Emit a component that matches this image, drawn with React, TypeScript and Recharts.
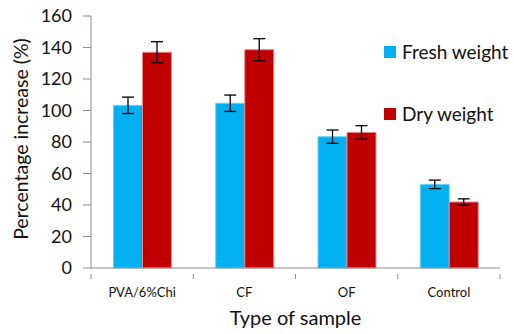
import React from 'react'
import { BarChart, Bar, XAxis, YAxis, ErrorBar, Label } from 'recharts'

const samples = ['PVA/6%Chi', 'CF', 'OF', 'Control']
const freshWeight = [103.3, 104.6, 83.4, 53.1]
const freshErr = [5.2, 5.2, 4.2, 2.7]
const dryWeight = [137, 138.6, 86.1, 41.9]
const dryErr = [6.7, 7, 4.3, 2]
const yTicks = [0, 20, 40, 60, 80, 100, 120, 140, 160]

const data = samples.map((name, i) => ({
  name,
  fresh: freshWeight[i],
  freshErr: freshErr[i],
  dry: dryWeight[i],
  dryErr: dryErr[i],
}))

const font = 'Lato, "Open Sans", sans-serif'
const axisGray = '#8c8c8c'

const legendItems = [
  { label: 'Fresh weight', color: '#00B0F0' },
  { label: 'Dry weight', color: '#C00000' },
]

// category tick: label at centre, tick marks at band boundaries
const CatTick = (props: any) => {
  const { x, y, payload, index, visibleTicksCount } = props
  const half = payload.offset || 0
  const top = y - 14
  return (
    <g>
      <line x1={x - half} y1={top} x2={x - half} y2={top + 5} stroke={axisGray} />
      {index === visibleTicksCount - 1 && (
        <line x1={x + half} y1={top} x2={x + half} y2={top + 5} stroke={axisGray} />
      )}
      <text x={x} y={y} dy="0.71em" textAnchor="middle" style={{ fontFamily: font, fontSize: 13, fill: '#111' }}>
        {payload.value}
      </text>
    </g>
  )
}

const YLabel = (props: any) => {
  const vb = props.viewBox || {}
  const cx = 20
  const cy = vb.y + vb.height / 2 - 3
  return (
    <text x={cx} y={cy} transform={`rotate(-90, ${cx}, ${cy})`} textAnchor="middle" dominantBaseline="central"
      style={{ fontFamily: font, fontSize: 19.5, fill: '#111' }}>
      Percentage increase (%)
    </text>
  )
}

export default function App() {
  return (
    <div style={{ position: 'absolute', left: 0, top: 0, width: 514, height: 334, background: '#fff' }}>
      <BarChart width={514} height={334} data={data} margin={{ top: 16, right: 14, bottom: 0, left: 0 }}
        barCategoryGap="22%" barGap={0}>
        <XAxis dataKey="name" height={66} axisLine={{ stroke: axisGray }} tickLine={false} tickMargin={14}
          tick={<CatTick />} interval={0}>
          <Label value="Type of sample" position="insideBottom" offset={9}
            style={{ fontFamily: font, fontSize: 20, fill: '#111' }} />
        </XAxis>
        <YAxis width={91} domain={[0, 160]} ticks={yTicks} interval={0} tickSize={8} tickMargin={11}
          axisLine={{ stroke: axisGray }} tickLine={{ stroke: axisGray }}
          tick={{ fontFamily: font, fontSize: 18, fill: '#111' }}>
          <Label content={<YLabel />} />
        </YAxis>
        <Bar dataKey="fresh" fill="#00B0F0" stroke="#6FD0F5" strokeWidth={1} isAnimationActive={false}>
          <ErrorBar dataKey="freshErr" width={6} stroke="#000" strokeWidth={1.3} />
        </Bar>
        <Bar dataKey="dry" fill="#C00000" stroke="#E58A8A" strokeWidth={1} isAnimationActive={false}>
          <ErrorBar dataKey="dryErr" width={6} stroke="#000" strokeWidth={1.3} />
        </Bar>
      </BarChart>
      <div style={{ position: 'absolute', left: 384, top: 40, fontFamily: font, fontSize: 19, color: '#111' }}>
        {legendItems.map((it, i) => (
          <div key={it.label} style={{ display: 'flex', alignItems: 'center', marginBottom: i === 0 ? 39 : 0 }}>
            <span style={{ width: 12, height: 12, background: it.color, display: 'inline-block', marginRight: 6 }} />
            <span>{it.label}</span>
          </div>
        ))}
      </div>
    </div>
  )
}
